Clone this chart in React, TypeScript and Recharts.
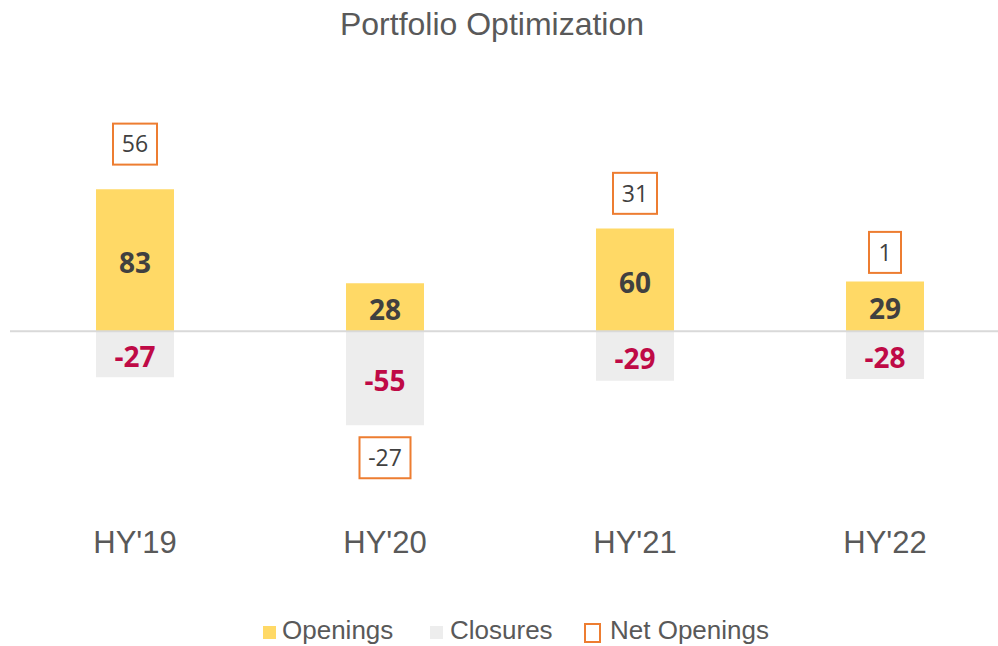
import {
  ComposedChart,
  Bar,
  Line,
  XAxis,
  YAxis,
  ReferenceLine,
  LabelList,
} from 'recharts'

const categories = ["HY'19", "HY'20", "HY'21", "HY'22"]
const openings = [83, 28, 60, 29]
const closures = [-27, -55, -29, -28]
const netOpenings = [56, -27, 31, 1]

const data = categories.map((cat, i) => ({
  cat,
  openings: openings[i],
  closures: closures[i],
  net: netOpenings[i],
}))

const GREY_TEXT = '#595959'
const DARK = '#404040'
const RED = '#BF0A46'
const ORANGE = '#ED7D31'
const YELLOW = '#FFD966'
const LIGHT = '#EDEDED'
const ARIAL = '"Liberation Sans", Arial, sans-serif'
const LABEL_FONT = '"Open Sans", sans-serif'

// box width grows with the text
function boxWidth(v: number) {
  const s = String(Math.abs(v))
  return s.length * 12 + (v < 0 ? 7 : 0) + 20
}

function NetBox({ cx, cy, value }: { cx: number; cy: number; value: number }) {
  const w = boxWidth(value)
  return (
    <g>
      <rect x={cx - w / 2} y={cy - 20.5} width={w} height={41} fill="#fff" stroke={ORANGE} strokeWidth={2} />
      <text x={cx} y={cy} dy="0.36em" textAnchor="middle" fontFamily={LABEL_FONT} fontSize={23} fill={DARK}>
        {value}
      </text>
    </g>
  )
}

// positive nets sit on the hidden line
const netAbove = (props: any) => {
  const { x, y, value } = props
  if (value == null || value < 0) return null
  return <NetBox cx={x} cy={y} value={value} />
}

// negative nets sit under the closures bar
const netBelow = (props: any) => {
  const { x, y, width, height, value } = props
  if (value == null || value >= 0) return null
  const bottom = Math.max(y, y + height)
  return <NetBox cx={x + width / 2} cy={bottom + 32.5} value={value} />
}

// bold value in the middle of a bar
const barValue = (color: string) => (props: any) => {
  const { x, y, width, height, value } = props
  return (
    <text
      x={x + width / 2}
      y={y + height / 2}
      dy="0.45em"
      textAnchor="middle"
      fontFamily={LABEL_FONT}
      fontSize={28}
      fontWeight={700}
      fill={color}
    >
      {value}
    </text>
  )
}

const CatTick = (props: any) => {
  const { x, y, payload } = props
  return (
    <text x={x} y={y} dy={77} textAnchor="middle" fontFamily={ARIAL} fontSize={31} fill={GREY_TEXT}>
      {payload.value}
    </text>
  )
}

export default function App() {
  return (
    <div style={{ position: 'relative', width: 998, height: 646, overflow: 'hidden' }}>
      <style>{'body{margin:0}'}</style>
      <ComposedChart
        width={1010}
        height={646}
        data={data}
        stackOffset="sign"
        margin={{ top: 126, right: 0, left: 10, bottom: 148 }}
      >
        <XAxis dataKey="cat" axisLine={false} tickLine={false} height={30} tick={<CatTick />} interval={0} />
        <YAxis yAxisId="left" hide domain={[-80, 120]} allowDataOverflow />
        <YAxis yAxisId="net" orientation="right" hide domain={[-108.5, 65.2]} allowDataOverflow />
        <Bar yAxisId="left" dataKey="openings" stackId="a" fill={YELLOW} barSize={78} isAnimationActive={false}>
          <LabelList dataKey="openings" content={barValue(DARK)} />
        </Bar>
        <Bar yAxisId="left" dataKey="closures" stackId="a" fill={LIGHT} barSize={78} isAnimationActive={false}>
          <LabelList dataKey="closures" content={barValue(RED)} />
          <LabelList dataKey="net" content={netBelow} />
        </Bar>
        <ReferenceLine yAxisId="left" y={0} stroke="#D9D9D9" strokeWidth={2} />
        <Line
          yAxisId="net"
          dataKey="net"
          stroke="none"
          dot={false}
          activeDot={false}
          isAnimationActive={false}
        >
          <LabelList dataKey="net" content={netAbove} />
        </Line>
      </ComposedChart>
      <svg width={998} height={646} style={{ position: 'absolute', left: 0, top: 0, pointerEvents: 'none' }}>
        <text x={492} y={35} textAnchor="middle" fontFamily={ARIAL} fontSize={32} fill={GREY_TEXT}>
          Portfolio Optimization
        </text>
        <rect x={263} y={626} width={13} height={13} fill={YELLOW} />
        <text x={282} y={639} fontFamily={ARIAL} fontSize={26} fill={GREY_TEXT}>Openings</text>
        <rect x={430} y={626} width={13} height={13} fill={LIGHT} />
        <text x={450} y={639} fontFamily={ARIAL} fontSize={26} fill={GREY_TEXT}>Closures</text>
        <rect x={585} y={624} width={15} height={18} fill="#fff" stroke={ORANGE} strokeWidth={2} />
        <text x={610} y={639} fontFamily={ARIAL} fontSize={26} fill={GREY_TEXT}>Net Openings</text>
      </svg>
    </div>
  )
}
